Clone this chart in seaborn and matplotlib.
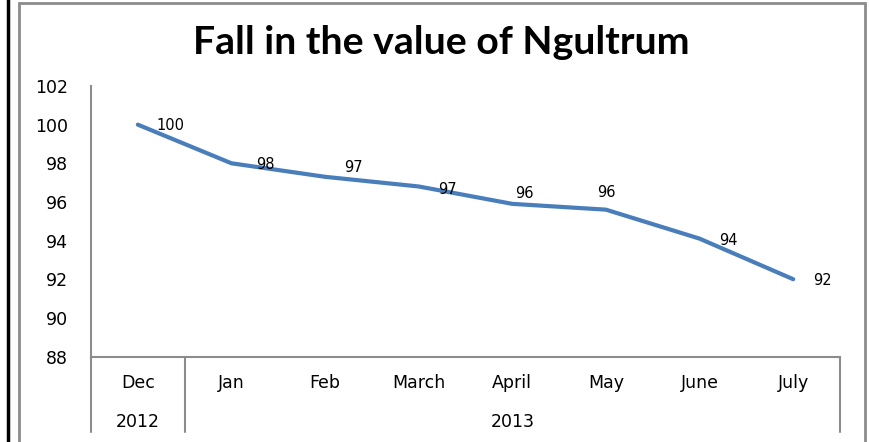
import matplotlib
matplotlib.use("Agg")
import matplotlib.pyplot as plt
import matplotlib.transforms as mtransforms
from matplotlib.lines import Line2D
from matplotlib.patches import Rectangle
import seaborn as sns
import pandas as pd

# ---- data ----
months = ["Dec", "Jan", "Feb", "March", "April", "May", "June", "July"]
years = ["2012", "2013", "2013", "2013", "2013", "2013", "2013", "2013"]
values = [100.0, 98.0, 97.3, 96.8, 95.9, 95.6, 94.1, 92.0]
yticks = [88, 90, 92, 94, 96, 98, 100, 102]
title = "Fall in the value of Ngultrum"

# label offsets in pixels (dx to left edge of text, dy up)
label_offsets = [(19, -1), (25, -1), (19, 9), (19, -3), (3, 10), (-9, 17), (20, -2), (20, -1)]

df = pd.DataFrame({"month": months, "value": values})

sns.set_theme(style="white")
plt.rcParams["font.family"] = ["DejaVu Sans"]
plt.rcParams["text.color"] = "#000000"
plt.rcParams["ytick.color"] = "#000000"
plt.rcParams["xtick.color"] = "#000000"

W, H = 870, 442
fig = plt.figure(figsize=(W / 100, H / 100), dpi=100)
ax = fig.add_axes([91 / W, (H - 356.5) / H, (840 - 91) / W, (356.5 - 86) / H])

line_color = "#4a7ebb"
grey = "#8c8c8c"

sns.lineplot(data=df, x="month", y="value", ax=ax, color=line_color,
             linewidth=3.0, sort=False, solid_capstyle="round")

ax.set_xlim(-0.5, len(months) - 0.5)
ax.set_ylim(88, 102)
ax.set_yticks(yticks)
ax.set_yticklabels([str(t) for t in yticks], fontsize=12.5, color="#000000")
ax.tick_params(axis="y", length=0, pad=16.5)
ax.set_xticks([])
ax.set_xlabel("")
ax.set_ylabel("")
for s in ["top", "right"]:
    ax.spines[s].set_visible(False)
for s in ["left", "bottom"]:
    ax.spines[s].set_color(grey)
    ax.spines[s].set_linewidth(1.5)
ax.grid(False)

# data labels
for i, (v, (dx, dy)) in enumerate(zip(values, label_offsets)):
    ax.annotate(f"{v:.0f}", xy=(i, v), xytext=(dx, dy), textcoords="offset pixels",
                ha="left", va="center", fontsize=10.5, color="#000000")

# multi-level category axis
trans = mtransforms.blended_transform_factory(ax.transData, ax.transAxes)
for i, m in enumerate(months):
    ax.text(i, -0.098, m, transform=trans, ha="center", va="center",
            fontsize=12.5, color="#000000")
# year groups
groups = []
for i, y in enumerate(years):
    if groups and groups[-1][0] == y:
        groups[-1][2] = i
    else:
        groups.append([y, i, i])
for y, a, b in groups:
    ax.text((a + b) / 2, -0.242, y, transform=trans, ha="center", va="center",
            fontsize=12.5, color="#000000")
seps = [groups[0][1] - 0.5] + [g[2] + 0.5 for g in groups]
for sx in seps:
    ax.add_line(Line2D([sx, sx], [0, -0.279], transform=trans, color=grey,
                       linewidth=1.5, clip_on=False))

# figure borders
fig.add_artist(Rectangle((19 / W, -0.05), (865 - 19) / W, (H - 3) / H + 0.05,
                         transform=fig.transFigure, fill=False, edgecolor=grey,
                         linewidth=2.0))
fig.add_artist(Line2D([8 / W, 8 / W], [0, 1], transform=fig.transFigure,
                      color="#000000", linewidth=2.5))

# title, fitted to the reference width
t = fig.text(441 / W, 1 - 42 / H, title, ha="center", va="center",
             fontsize=26, fontweight="bold", color="#000000",
             family=["Lato", "DejaVu Sans"])
fig.canvas.draw()
r = fig.canvas.get_renderer()
w = t.get_window_extent(r).width
t.set_fontsize(26 * 497 / w)

fig.savefig("out.png", dpi=100)
